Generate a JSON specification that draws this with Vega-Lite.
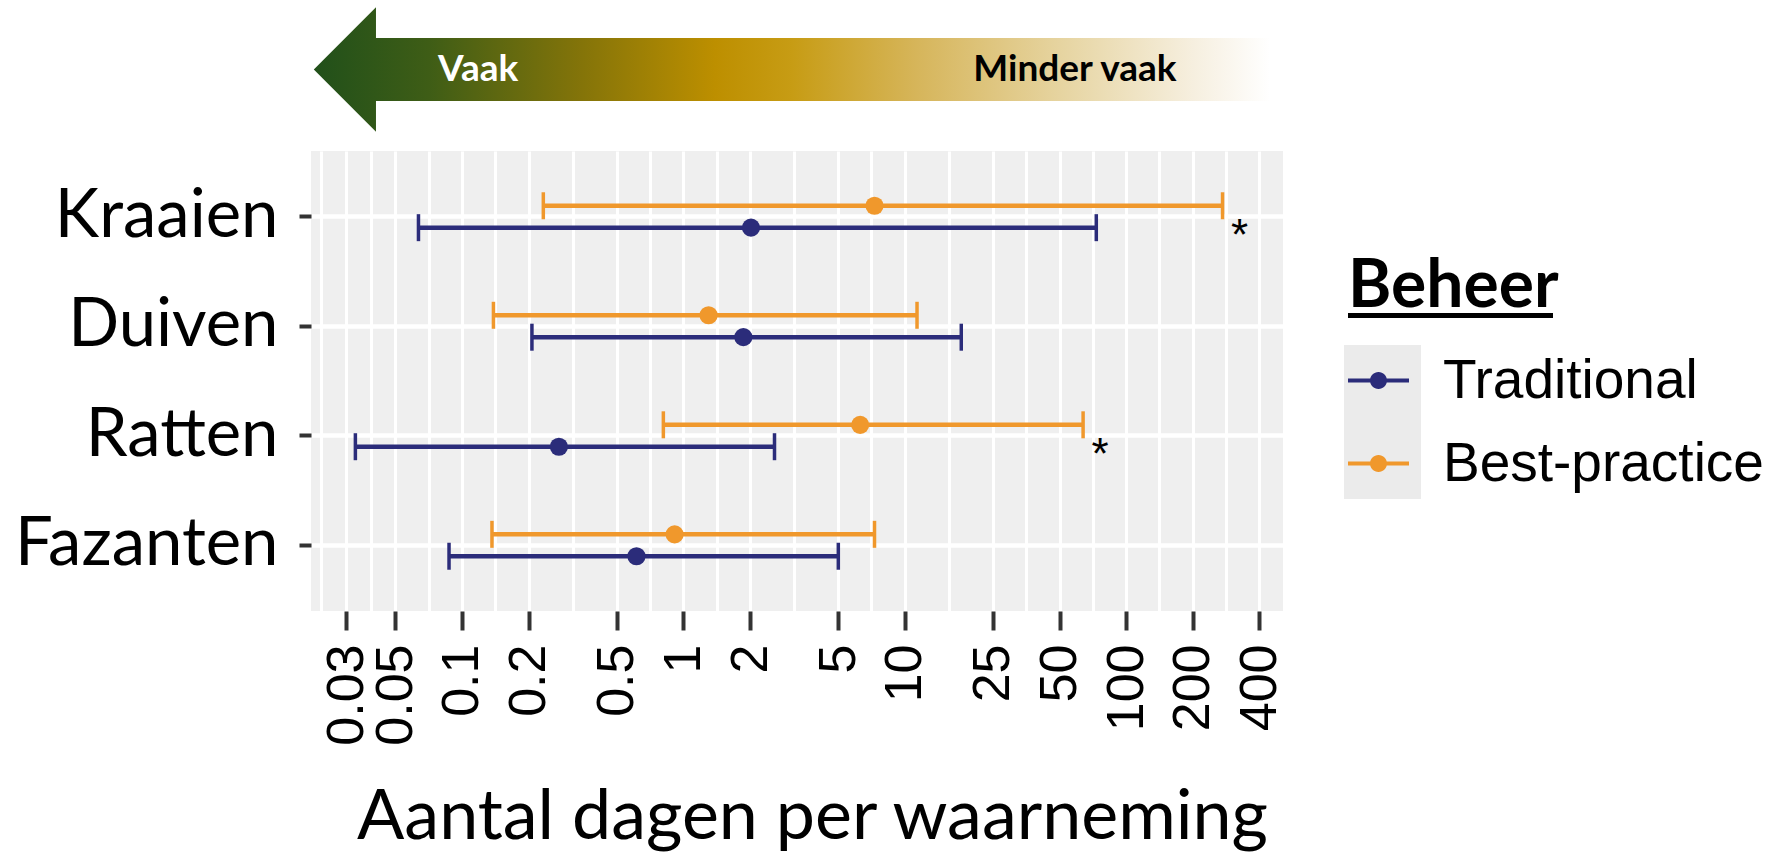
{
  "$schema": "https://vega.github.io/schema/vega-lite/v6.json",
  "padding": {"left": 14, "top": 0, "right": 0, "bottom": 0},
  "spacing": 12,
  "config": {"font": "Lato", "view": {"stroke": null}},
  "vconcat": [
    {
      "width": 972,
      "height": 139,
      "data": {"values": [
        {"tekst": "Vaak", "positie": 0.1184},
        {"tekst": "Minder vaak", "positie": 58.7}
      ]},
      "layer": [
        {
          "transform": [{"filter": "datum.tekst === 'Vaak'"}],
          "mark": {
            "type": "point",
            "shape": "M -1.0109 0 L -0.8808 -0.1301 L -0.8808 -0.0659 L 0.9895 -0.0659 L 0.9895 0.0659 L -0.8808 0.0659 L -0.8808 0.1301 Z",
            "size": 913936,
            "filled": true,
            "opacity": 1,
            "strokeWidth": 0,
            "fill": {
              "gradient": "linear",
              "x1": 0, "x2": 1, "y1": 0, "y2": 0,
              "stops": [
                {"offset": 0, "color": "#21501a"},
                {"offset": 0.12, "color": "#3e5d16"},
                {"offset": 0.28, "color": "#847409"},
                {"offset": 0.42, "color": "#bd8f00"},
                {"offset": 0.5, "color": "#c79c14"},
                {"offset": 0.63, "color": "#d6b55a"},
                {"offset": 0.78, "color": "#e6d4a0"},
                {"offset": 0.92, "color": "#f6efdf"},
                {"offset": 1, "color": "#ffffff"}
              ]
            }
          },
          "encoding": {}
        },
        {
          "mark": {"type": "text", "font": "Lato", "fontWeight": "bold", "fontSize": 37, "baseline": "middle", "align": "center"},
          "encoding": {
            "x": {"field": "positie", "type": "quantitative", "scale": {"type": "log", "domain": [0.0208, 511], "nice": false}, "axis": null},
            "text": {"field": "tekst"},
            "color": {"condition": {"test": "datum.tekst === 'Vaak'", "value": "white"}, "value": "black"}
          }
        }
      ]
    },
    {
      "width": 972,
      "height": 460,
      "view": {"fill": "#efefef", "stroke": null},
      "data": {"values": [
        {"Dier": "Kraaien", "Beheer": "Traditional", "schatting": 2.02, "laag": 0.0636, "hoog": 73.3, "sig": ""},
        {"Dier": "Kraaien", "Beheer": "Best-practice", "schatting": 7.3, "laag": 0.233, "hoog": 272.5, "sig": "*"},
        {"Dier": "Duiven", "Beheer": "Traditional", "schatting": 1.866, "laag": 0.207, "hoog": 18.0, "sig": ""},
        {"Dier": "Duiven", "Beheer": "Best-practice", "schatting": 1.3, "laag": 0.1387, "hoog": 11.36, "sig": ""},
        {"Dier": "Ratten", "Beheer": "Traditional", "schatting": 0.274, "laag": 0.033, "hoog": 2.58, "sig": ""},
        {"Dier": "Ratten", "Beheer": "Best-practice", "schatting": 6.29, "laag": 0.812, "hoog": 63.9, "sig": "*"},
        {"Dier": "Fazanten", "Beheer": "Traditional", "schatting": 0.614, "laag": 0.0874, "hoog": 5.01, "sig": ""},
        {"Dier": "Fazanten", "Beheer": "Best-practice", "schatting": 0.913, "laag": 0.1366, "hoog": 7.3, "sig": ""}
      ]},
      "encoding": {
        "y": {
          "field": "Dier", "type": "nominal",
          "sort": ["Kraaien", "Duiven", "Ratten", "Fazanten"],
          "scale": {"paddingInner": 0.6, "paddingOuter": 0.4},
          "axis": {
            "title": null, "labelFont": "Lato", "labelFontSize": 67, "labelColor": "black",
            "labelPadding": 21, "tickSize": 12, "tickWidth": 4, "tickColor": "#333333",
            "domain": false, "grid": true, "gridColor": "white", "gridWidth": 4.5, "labelLimit": 500
          }
        },
        "yOffset": {
          "field": "Beheer", "type": "nominal",
          "sort": ["Best-practice", "Traditional"],
          "scale": {"paddingInner": 0, "paddingOuter": 0}
        }
      },
      "layer": [
        {
          "mark": {"type": "rule", "strokeWidth": 4.5},
          "encoding": {
            "x": {
              "field": "laag", "type": "quantitative",
              "scale": {"type": "log", "domain": [0.0208, 511], "nice": false},
              "title": "Aantal dagen per waarneming",
              "axis": {
                "values": [0.0231, 0.03, 0.0387, 0.05, 0.0707, 0.1, 0.1414, 0.2, 0.3162, 0.5, 0.7071, 1, 1.4142, 2, 3.1623, 5, 7.0711, 10, 15.811, 25, 35.355, 50, 70.711, 100, 141.42, 200, 282.84, 400],
                "labelExpr": "indexof([0.03, 0.05, 0.1, 0.2, 0.5, 1, 2, 5, 10, 25, 50, 100, 200, 400], datum.value) >= 0 ? '' + datum.value : ''",
                "tickOpacity": {"condition": {"test": "indexof([0.03, 0.05, 0.1, 0.2, 0.5, 1, 2, 5, 10, 25, 50, 100, 200, 400], datum.value) >= 0", "value": 1}, "value": 0},
                "labelAngle": 270, "labelFont": "Liberation Sans", "labelFontSize": 52, "labelColor": "black",
                "labelPadding": 14, "labelOverlap": false, "labelFlush": false, "labelBound": false,
                "tickSize": 19, "tickWidth": 4, "tickColor": "#333333",
                "domain": false, "grid": true, "gridColor": "white", "gridWidth": 3,
                "titleFont": "Lato", "titleFontSize": 70, "titleFontWeight": "normal", "titleColor": "black",
                "titlePadding": 38, "titleX": 501
              }
            },
            "x2": {"field": "hoog"},
            "color": {
              "field": "Beheer", "type": "nominal",
              "scale": {"domain": ["Traditional", "Best-practice"], "range": ["#2b2c7a", "#f0982c"]},
              "legend": {
                "orient": "none", "legendX": 1033, "legendY": 194, "title": null,
                "symbolType": "square", "symbolSize": 5929, "symbolOpacity": 0, "symbolStrokeWidth": 0,
                "labelExpr": "''", "labelOffset": 0, "padding": 0, "rowPadding": 0,
                "fillColor": "#ebebeb", "zindex": 0
              }
            }
          }
        },
        {
          "mark": {"type": "tick", "size": 27, "thickness": 3.5, "opacity": 1},
          "encoding": {
            "x": {"field": "laag", "type": "quantitative"},
            "color": {
              "field": "Beheer", "type": "nominal",
              "scale": {"domain": ["Traditional", "Best-practice"], "range": ["#2b2c7a", "#f0982c"]},
              "legend": {
                "orient": "none", "legendX": 1037, "legendY": 162, "title": null,
                "direction": "horizontal",
                "symbolType": "square", "symbolSize": 25, "symbolOpacity": 0, "symbolStrokeWidth": 0,
                "labelExpr": "''", "labelFontSize": 1, "labelOffset": 0, "padding": 0,
                "columnPadding": 195, "rowPadding": 0,
                "fillColor": "black", "zindex": 2
              }
            }
          }
        },
        {
          "mark": {"type": "tick", "size": 27, "thickness": 3.5, "opacity": 1},
          "encoding": {
            "x": {"field": "hoog", "type": "quantitative"},
            "color": {"field": "Beheer", "type": "nominal", "scale": {"domain": ["Traditional", "Best-practice"], "range": ["#2b2c7a", "#f0982c"]}, "legend": null}
          }
        },
        {
          "mark": {"type": "point", "filled": true, "size": 330, "opacity": 1, "strokeWidth": 0},
          "encoding": {
            "x": {"field": "schatting", "type": "quantitative"},
            "color": {
              "field": "Beheer", "type": "nominal",
              "scale": {"domain": ["Traditional", "Best-practice"], "range": ["#2b2c7a", "#f0982c"]},
              "legend": {
                "orient": "none", "legendX": 1037, "legendY": 104,
                "title": "Beheer", "titleFont": "Lato", "titleFontSize": 66, "titleFontWeight": "bold",
                "titleColor": "black", "titlePadding": 29, "titleLimit": 600,
                "symbolType": "M -1 -0.066 L 1 -0.066 L 1 0.066 L -1 0.066 Z M 0.279 0 A 0.279 0.279 0 1 1 -0.279 0 A 0.279 0.279 0 1 1 0.279 0 Z",
                "symbolSize": 3721, "symbolStrokeWidth": 0, "symbolOpacity": 1,
                "labelFont": "Liberation Sans", "labelFontSize": 55, "labelColor": "black",
                "labelOffset": 34, "rowPadding": 24, "padding": 0, "labelLimit": 600, "zindex": 1
              }
            }
          }
        },
        {
          "mark": {"type": "text", "font": "Liberation Sans", "fontSize": 44, "dx": 17, "dy": 44, "baseline": "alphabetic", "align": "center", "color": "black"},
          "encoding": {
            "x": {"field": "hoog", "type": "quantitative"},
            "text": {"field": "sig"}
          }
        }
      ],
      "resolve": {"legend": {"color": "independent"}}
    }
  ]
}
